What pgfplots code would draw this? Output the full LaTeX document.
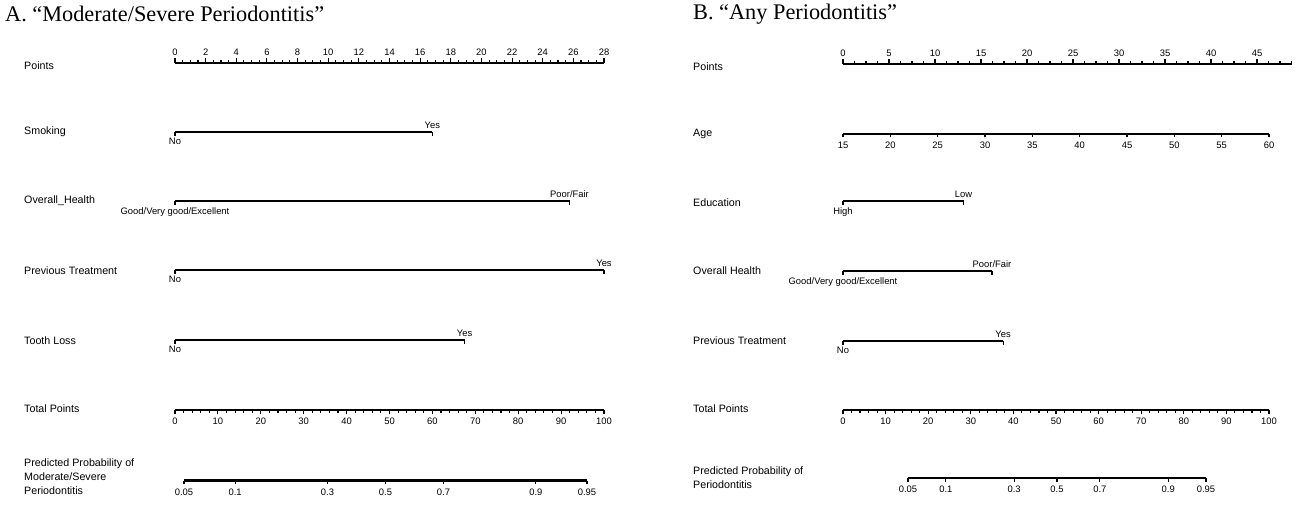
\documentclass[border=0pt]{standalone}
\usepackage{pgfplots}
\pgfplotsset{compat=1.18}
\usepackage{fontspec}
\setmainfont{Liberation Sans}
\newfontfamily\titlefont{Liberation Serif}
\newcommand{\rowfont}{\fontsize{10.7}{14}\selectfont}
\newcommand{\tickfont}{\fontsize{9.4}{10}\selectfont}
\newcommand{\catfont}{\fontsize{9.4}{10}\selectfont}
\pgfplotsset{
  nomo/.style={scale only axis, hide y axis, ymin=0, ymax=1, height=10pt, clip=false,
    enlargelimits=false,
    /pgf/number format/assume math mode=true,
  },
  up/.style={axis x line=top, anchor=north west, tick align=outside,
    x axis line style={-, line width=2.4pt, black},
    every tick/.style={black, line width=1.1pt},
    xticklabel style={font=\tickfont, inner sep=1pt, text=black, yshift=2pt},
    major tick length=4.5pt, minor tick length=2.5pt},
  down/.style={axis x line=bottom, anchor=south west, tick align=outside,
    x axis line style={-, line width=2.4pt, black},
    every tick/.style={black, line width=1.1pt},
    xticklabel style={font=\tickfont, inner sep=1pt, text=black, yshift=-3.5pt},
    major tick length=3.5pt, minor tick length=2.5pt},
  cat/.style={scale only axis, height=504pt, ymin=0, ymax=504, y dir=reverse,
    axis lines=none, clip=false, anchor=south west},
  catline/.style={black, line width=2.4pt},
  catend/.style={black, line width=1.1pt},
  lblabove/.style={draw=none, mark=none, nodes near coords, point meta=explicit symbolic,
    every node near coord/.style={anchor=south, font=\catfont, inner sep=1pt, text=black}},
  lblbelow/.style={draw=none, mark=none, nodes near coords, point meta=explicit symbolic,
    every node near coord/.style={anchor=north, font=\catfont, inner sep=1pt, text=black}},
}
\begin{document}
\begin{tikzpicture}
\useasboundingbox (0,0) rectangle (1304pt,504pt);
% ---------------- Titles ----------------
\node[anchor=west, inner sep=0pt] at (5pt,490pt) {\titlefont\fontsize{22.3}{26}\selectfont A. “Moderate/Severe Periodontitis”};
\node[anchor=west, inner sep=0pt] at (693pt,490pt) {\titlefont\fontsize{22.3}{26}\selectfont B. “Any Periodontitis”};
% ---------------- Row labels A ----------------
\begin{scope}[every node/.style={anchor=west, inner sep=0pt, font=\rowfont}]
\node at (24pt,438pt) {Points};
\node at (24pt,372pt) {Smoking};
\node at (24pt,303pt) {Overall\_Health};
\node at (24pt,233pt) {Previous Treatment};
\node at (24pt,163pt) {Tooth Loss};
\node at (24pt,95pt) {Total Points};
\node[align=left, font=\fontsize{10.7}{14}\selectfont] at (24pt,27pt) {Predicted Probability of\\Moderate/Severe\\Periodontitis};
% ---------------- Row labels B ----------------
\node at (693pt,437pt) {Points};
\node at (693pt,370pt) {Age};
\node at (693pt,301pt) {Education};
\node at (693pt,233pt) {Overall Health};
\node at (693pt,163pt) {Previous Treatment};
\node at (693pt,95pt) {Total Points};
\node[align=left, font=\fontsize{10.7}{14}\selectfont] at (693pt,26pt) {Predicted Probability of\\Periodontitis};
\end{scope}

% ================= Panel A =================
\begin{axis}[nomo, up, at={(175pt,441pt)}, width=429pt, xmin=0, xmax=28,
  xtick={0,2,...,28}, minor xtick={0,0.5,...,28}]
\end{axis}
\begin{axis}[cat, at={(175pt,0pt)}, width=429pt, xmin=0, xmax=28]
  % Smoking
  \addplot[catline] coordinates {(0,132) (16.8,132)};
  \addplot[catend] coordinates {(0,132) (0,136)};
  \addplot[catend] coordinates {(16.8,132) (16.8,136)};
  % Overall health
  \addplot[catline] coordinates {(0,201) (25.75,201)};
  \addplot[catend] coordinates {(0,201) (0,205)};
  \addplot[catend] coordinates {(25.75,201) (25.75,205)};
  % Previous treatment
  \addplot[catline] coordinates {(0,270) (28,270)};
  \addplot[catend] coordinates {(0,270) (0,274)};
  \addplot[catend] coordinates {(28,270) (28,274)};
  % Tooth loss
  \addplot[catline] coordinates {(0,340) (18.9,340)};
  \addplot[catend] coordinates {(0,340) (0,344)};
  \addplot[catend] coordinates {(18.9,340) (18.9,344)};
  % labels
  \addplot[lblabove] table[col sep=comma, meta=lab] {
x,y,lab
16.8,129.5,Yes
25.75,198.5,Poor/Fair
28,267.5,Yes
18.9,337.5,Yes
};
  \addplot[lblbelow] table[col sep=comma, meta=lab] {
x,y,lab
0,137,No
0,206,Good/Very good/Excellent
0,275,No
0,345,No
};
\end{axis}
\begin{axis}[nomo, down, at={(175pt,94pt)}, width=429pt, xmin=0, xmax=100,
  xtick={0,10,...,100}, minor xtick={0,2,...,100}]
\end{axis}
\begin{axis}[nomo, down, at={(184pt,23.5pt)}, width=403pt, xmin=-2.944, xmax=2.944,
  xtick={-2.944,-2.197,-0.847,0,0.847,2.197,2.944},
  xticklabels={0.05,0.1,0.3,0.5,0.7,0.9,0.95}]
\end{axis}

% ================= Panel B =================
\begin{axis}[nomo, up, at={(843pt,440pt)}, width=448.5pt, xmin=0, xmax=48.75,
  xtick={0,5,...,45}, minor xtick={0,1.25,...,48.75}]
\end{axis}
\begin{axis}[nomo, down, at={(843pt,370pt)}, width=426pt, xmin=15, xmax=60,
  xtick={15,20,...,60}]
\end{axis}
\begin{axis}[cat, at={(843pt,0pt)}, width=448.5pt, xmin=0, xmax=48.75]
  % Education
  \addplot[catline] coordinates {(0,201) (13.1,201)};
  \addplot[catend] coordinates {(0,201) (0,205)};
  \addplot[catend] coordinates {(13.1,201) (13.1,205)};
  % Overall health
  \addplot[catline] coordinates {(0,271) (16.2,271)};
  \addplot[catend] coordinates {(0,271) (0,275)};
  \addplot[catend] coordinates {(16.2,271) (16.2,275)};
  % Previous treatment
  \addplot[catline] coordinates {(0,341) (17.4,341)};
  \addplot[catend] coordinates {(0,341) (0,345)};
  \addplot[catend] coordinates {(17.4,341) (17.4,345)};
  \addplot[lblabove] table[col sep=comma, meta=lab] {
x,y,lab
13.1,198.5,Low
16.2,268.5,Poor/Fair
17.4,338.5,Yes
};
  \addplot[lblbelow] table[col sep=comma, meta=lab] {
x,y,lab
0,206,High
0,276,Good/Very good/Excellent
0,346,No
};
\end{axis}
\begin{axis}[nomo, down, at={(843pt,94pt)}, width=426pt, xmin=0, xmax=100,
  xtick={0,10,...,100}, minor xtick={0,2,...,100}]
\end{axis}
\begin{axis}[nomo, down, at={(908pt,26pt)}, width=298pt, xmin=-2.944, xmax=2.944,
  xtick={-2.944,-2.197,-0.847,0,0.847,2.197,2.944},
  xticklabels={0.05,0.1,0.3,0.5,0.7,0.9,0.95}]
\end{axis}
\end{tikzpicture}
\end{document}
